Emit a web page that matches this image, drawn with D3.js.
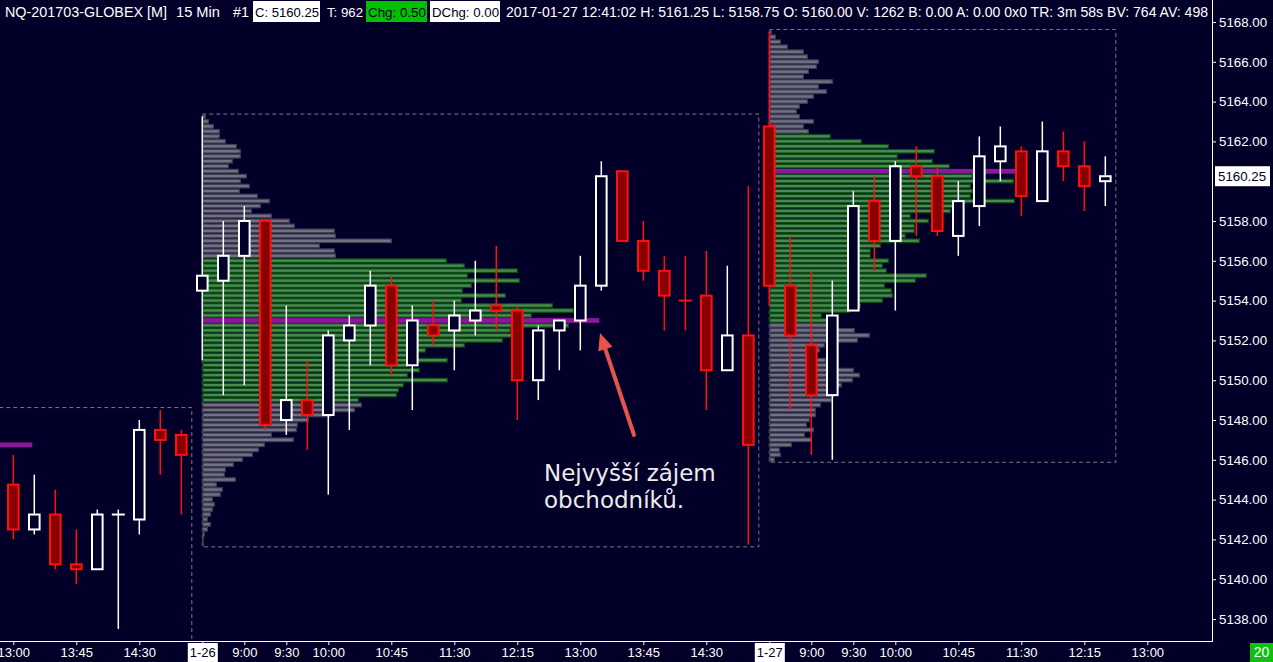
<!DOCTYPE html>
<html><head><meta charset="utf-8">
<script src="https://cdn.jsdelivr.net/npm/d3@7"></script>
<style>html,body{margin:0;padding:0;background:#020029;overflow:hidden}</style>
</head><body><svg id="c" width="1273" height="662"></svg>
<script>
// ---------------- DATA ----------------
const barTimes = [
  "01-25 13:00","01-25 13:15","01-25 13:30","01-25 13:45","01-25 14:00","01-25 14:15","01-25 14:30","01-25 14:45","01-25 15:00",
  "01-26 8:30","01-26 8:45","01-26 9:00","01-26 9:15","01-26 9:30","01-26 9:45","01-26 10:00","01-26 10:15","01-26 10:30",
  "01-26 10:45","01-26 11:00","01-26 11:15","01-26 11:30","01-26 11:45","01-26 12:00","01-26 12:15","01-26 12:30","01-26 12:45",
  "01-26 13:00","01-26 13:15","01-26 13:30","01-26 13:45","01-26 14:00","01-26 14:15","01-26 14:30","01-26 14:45","01-26 15:00",
  "01-27 8:30","01-27 8:45","01-27 9:00","01-27 9:15","01-27 9:30","01-27 9:45","01-27 10:00","01-27 10:15","01-27 10:30",
  "01-27 10:45","01-27 11:00","01-27 11:15","01-27 11:30","01-27 11:45","01-27 12:00","01-27 12:15","01-27 12:30"
];
const opens  = [5144.75,5142.5,5143.25,5140.75,5140.5,5143.25,5143.0,5147.5,5147.25,
  5154.5,5155.0,5156.25,5158.0,5148.0,5149.0,5148.25,5152.0,5152.75,5154.75,5150.75,5152.75,5152.5,5153.0,5153.75,5153.5,5150.0,5152.5,
  5153.0,5154.75,5160.5,5157.0,5155.5,5154.0,5154.25,5150.5,5152.25,
  5162.75,5154.75,5151.75,5149.25,5153.5,5159.0,5157.0,5160.75,5160.25,5157.25,5158.75,5161.0,5161.5,5159.0,5161.5,5160.75,5160.0];
const highs  = [5146.25,5145.25,5144.5,5142.5,5143.5,5143.5,5148.0,5148.5,5147.5,
  5163.25,5158.0,5158.75,5158.0,5153.75,5151.0,5152.5,5153.25,5155.5,5155.25,5153.75,5154.0,5154.0,5156.0,5156.75,5153.75,5152.75,5153.0,
  5156.25,5161.0,5160.5,5158.0,5156.25,5156.25,5156.5,5155.75,5159.75,
  5167.5,5157.25,5155.5,5155.0,5159.5,5160.25,5161.0,5161.75,5160.75,5160.0,5162.25,5162.75,5161.75,5163.0,5162.5,5162.0,5161.25];
const lows   = [5142.0,5142.25,5140.5,5139.75,5140.5,5137.5,5142.25,5145.25,5143.25,
  5151.0,5149.25,5149.75,5147.5,5147.25,5146.5,5144.25,5147.5,5150.75,5150.25,5148.5,5151.75,5150.5,5152.25,5152.5,5148.0,5149.0,5150.5,
  5151.5,5154.5,5157.0,5155.0,5152.5,5152.5,5148.5,5150.5,5141.75,
  5153.75,5148.5,5146.25,5146.0,5153.5,5155.5,5153.5,5157.25,5157.25,5156.25,5157.75,5160.0,5158.25,5159.0,5160.0,5158.5,5158.75];
const closes = [5142.5,5143.25,5140.75,5140.5,5143.25,5143.25,5147.5,5147.0,5146.25,
  5155.25,5156.25,5158.0,5147.75,5149.0,5148.25,5152.25,5152.75,5154.75,5150.75,5153.0,5152.25,5153.25,5153.5,5153.5,5150.0,5152.5,5153.0,
  5154.75,5160.25,5157.0,5155.5,5154.25,5154.0,5150.5,5152.25,5146.75,
  5154.75,5152.25,5149.25,5153.25,5158.75,5157.0,5160.75,5160.25,5157.5,5159.0,5161.25,5161.75,5159.25,5161.5,5160.75,5159.75,5160.25];

// sessions (bar index of first / last bar, high, low)
const sessionLabels = ["1-25","1-26","1-27"];
const sessionStart  = [-18, 9, 36];
const sessionEnd    = [8, 35, 52];
const sessionHigh   = [5148.5, 5163.25, 5167.5];
const sessionLow    = [5135.0, 5141.75, 5146.0];

// volume profiles (volume per 0.25 tick, from top price downward; units of 10 contracts)
const prof26Top = 5163.25;
const prof26Vol = [3,6,11,17,17,23,34,38,38,30,26,36,44,38,47,37,55,67,58,49,69,87,92,132,133,189,117,132,133,
  244,262,315,265,317,269,260,303,259,350,371,329,397,366,308,310,300,262,223,208,245,205,217,205,245,201,196,194,156,
  159,152,128,106,95,94,69,91,62,56,50,40,31,23,22,33,14,20,18,10,12,10,8,5,8,5,2,1,1];
const prof26VA = [5156.0, 5149.0];
const prof27Top = 5167.5;
const prof27Vol = [2,6,11,18,34,38,49,47,39,34,63,49,57,44,38,30,27,30,44,34,39,
  61,92,119,165,128,163,180,246,203,244,201,203,201,245,190,181,141,159,145,145,136,150,111,101,101,119,113,117,157,146,115,122,123,113,91,80,52,60,
  60,85,100,88,55,50,45,56,60,84,90,83,72,60,64,62,51,46,46,40,37,44,35,42,22,10,11,5];
const prof27VA = [5162.25, 5153.0];
const poc25Price = 5146.75, poc25Vol = 397;

const yTicks = [5168,5166,5164,5162,5158,5156,5154,5152,5150,5148,5146,5144,5142,5140,5138];
const xTickIdx = [0,3,6,9,11,13,15,18,21,24,27,30,33,36,38,40,42,45,48,51,54];
const xTickLabels = ["13:00","13:45","14:30","1-26","9:00","9:30","10:00","10:45","11:30","12:15","13:00","13:45","14:30",
  "1-27","9:00","9:30","10:00","10:45","11:30","12:15","13:00"];
const lastPrice = 5160.25;
const barsCounter = "20";

// ---------------- LAYOUT ----------------
const W = 1273, H = 662, PR = 1212, PB = 641;
const BG = "#020029";
const svg = d3.select("#c");
svg.append("rect").attr("width", W).attr("height", H).attr("fill", BG);

const x = d3.scaleLinear().domain([-0.6333, 57.08]).range([0, PR]);
const y = d3.scaleLinear().domain([5168, 5138]).range([22, 619]);
const vScale = d3.scaleLinear().domain([0, 100]).range([0, 100]);
const halfBar = (x(1) - x(0)) / 2;
const tick = 0.25;

svg.append("clipPath").attr("id", "plot").append("rect").attr("width", PR).attr("height", PB);
const g = svg.append("g").attr("clip-path", "url(#plot)");

// session boxes
sessionLabels.forEach((s, i) => {
  g.append("rect")
    .attr("x", x(sessionStart[i])).attr("y", y(sessionHigh[i] + tick / 2))
    .attr("width", x(sessionEnd[i]) + halfBar - x(sessionStart[i]))
    .attr("height", y(sessionLow[i] - tick / 2) - y(sessionHigh[i] + tick / 2))
    .attr("fill", "none").attr("stroke", "#7a7a80").attr("stroke-width", 1).attr("stroke-dasharray", "4,3");
});

function drawProfile(top, vols, va, startIdx) {
  const x0 = x(startIdx);
  const pg = g.append("g");
  let maxV = d3.max(vols), pocK = vols.indexOf(maxV);
  vols.forEach((v, k) => {
    const p = top - k * tick;
    const inVA = p <= va[0] && p >= va[1];
    if (k === pocK) return;
    pg.append("rect")
      .attr("x", x0 + 0.5).attr("y", y(p) - 1.9)
      .attr("width", Math.max(0.5, vScale(v) - 0.5)).attr("height", 3.6)
      .attr("fill", inVA ? "#4a8a52" : "#717085")
      .attr("stroke", inVA ? "#0a4a15" : "#3e3d50").attr("stroke-width", 1.2);
  });
  pg.append("rect").attr("x", x0).attr("y", y(top - pocK * tick) - 2.4)
    .attr("width", vScale(maxV)).attr("height", 4.8).attr("fill", "#8a179c");
}
drawProfile(prof26Top, prof26Vol, prof26VA, sessionStart[1]);
drawProfile(prof27Top, prof27Vol, prof27VA, sessionStart[2]);
g.append("rect").attr("x", x(sessionStart[0])).attr("y", y(poc25Price) - 2.4)
  .attr("width", vScale(poc25Vol)).attr("height", 4.8).attr("fill", "#8a179c");

// candles
const cg = g.append("g");
opens.forEach((o, i) => {
  const c = closes[i], h = highs[i], l = lows[i];
  const prev = i > 0 ? closes[i - 1] : o;
  const up = c > o || (c === o && c >= prev);
  const col = up ? "#ffffff" : "#ff1010";
  const cx = x(i);
  cg.append("line").attr("x1", cx).attr("x2", cx).attr("y1", y(h)).attr("y2", y(l))
    .attr("stroke", col).attr("stroke-width", 1.5);
  if (o === c) {
    cg.append("line").attr("x1", cx - 6.5).attr("x2", cx + 6.5).attr("y1", y(o)).attr("y2", y(o))
      .attr("stroke", col).attr("stroke-width", 2);
  } else {
    const t = y(Math.max(o, c)), b = y(Math.min(o, c));
    cg.append("rect").attr("x", cx - 5.3).attr("y", t).attr("width", 10.6).attr("height", b - t)
      .attr("fill", up ? BG : "#8a0000").attr("stroke", col).attr("stroke-width", 2);
  }
});

// annotation
const tip = [600, 333], tail = [634, 435];
const dx = tip[0] - tail[0], dy = tip[1] - tail[1], len = Math.hypot(dx, dy);
const ux = dx / len, uy = dy / len, bx = tip[0] - 17 * ux, by = tip[1] - 17 * uy;
g.append("line").attr("x1", tail[0]).attr("y1", tail[1]).attr("x2", bx).attr("y2", by)
  .attr("stroke", "#e5554a").attr("stroke-width", 4).attr("stroke-linecap", "round");
g.append("path").attr("d", `M${tip[0]},${tip[1]}L${bx - 7.5 * uy},${by + 7.5 * ux}L${bx + 7.5 * uy},${by - 7.5 * ux}Z`)
  .attr("fill", "#e5554a");
const at = g.append("text").attr("font-family", "'DejaVu Sans', Verdana, sans-serif").attr("font-size", 23)
  .attr("fill", "#ececec");
at.append("tspan").attr("x", 544).attr("y", 481).text("Nejvyšší zájem");
at.append("tspan").attr("x", 544).attr("y", 508).text("obchodníků.");

// axes
const axFont = "'Liberation Sans', Arial, sans-serif";
const ya = svg.append("g").attr("transform", `translate(${PR},0)`)
  .call(d3.axisRight(y).tickValues(yTicks).tickFormat(d3.format(".2f")).tickSize(4).tickSizeOuter(0));
ya.select(".domain").remove();
ya.selectAll("line").attr("stroke", "#fff");
ya.selectAll("text").attr("fill", "#fff").attr("font-family", axFont).attr("font-size", 13.3).attr("x", 7);

const xa = svg.append("g").attr("transform", `translate(0,${PB})`)
  .call(d3.axisBottom(x).tickValues(xTickIdx).tickFormat((d, i) => xTickLabels[i]).tickSize(4).tickSizeOuter(0));
xa.select(".domain").remove();
xa.selectAll("line").attr("stroke", "#fff");
xa.selectAll("text").attr("fill", "#fff").attr("font-family", axFont).attr("font-size", 13).attr("y", 5).attr("dy", "0.85em");
xa.selectAll(".tick").each(function (d, i) {
  if (xTickLabels[i].includes("-")) {
    const t = d3.select(this).select("text").attr("fill", "#000022");
    const bb = t.node().getBBox();
    d3.select(this).insert("rect", "text").attr("x", bb.x - 2).attr("y", 2).attr("width", bb.width + 4)
      .attr("height", 19).attr("fill", "#fff");
  }
});
svg.append("line").attr("x1", 0).attr("x2", PR).attr("y1", PB + 0.5).attr("y2", PB + 0.5).attr("stroke", "#fff");
svg.append("line").attr("x1", PR + 0.5).attr("x2", PR + 0.5).attr("y1", 0).attr("y2", PB + 1).attr("stroke", "#fff");

// last price box
svg.append("rect").attr("x", PR + 3).attr("y", y(lastPrice) - 10).attr("width", 55).attr("height", 20).attr("fill", "#fff");
svg.append("text").attr("x", PR + 6).attr("y", y(lastPrice)).attr("dy", "0.35em").attr("fill", "#000022")
  .attr("font-family", axFont).attr("font-size", 13.3).text(d3.format(".2f")(lastPrice));

// counter box
svg.append("rect").attr("x", 1250).attr("y", 643).attr("width", 23).attr("height", 19).attr("fill", "#10bf10");
svg.append("text").attr("x", 1261.5).attr("y", 657).attr("text-anchor", "middle").attr("fill", "#fff")
  .attr("font-family", axFont).attr("font-size", 14).text(barsCounter);

// header
const hdr = [
  {t: "NQ-201703-GLOBEX [M]", x0: 5, x1: 167},
  {t: "15 Min", x0: 176, x1: 220},
  {t: "#1", x0: 233, x1: 249},
  {t: "C: " + d3.format(".2f")(lastPrice), x0: 255, x1: 319, bg: "#ffffff"},
  {t: "T: 962", x0: 327, x1: 363},
  {t: "Chg: 0.50", x0: 368, x1: 426, bg: "#00c000"},
  {t: "DChg: 0.00", x0: 432, x1: 499, bg: "#ffffff"},
  {t: "2017-01-27 12:41:02 H: 5161.25 L: 5158.75 O: 5160.00 V: 1262 B: 0.00 A: 0.00 0x0 TR: 3m 58s BV: 764 AV: 498", x0: 506, x1: 1208}
];
hdr.forEach(h => {
  if (h.bg) svg.append("rect").attr("x", h.x0 - 2).attr("y", 1).attr("width", h.x1 - h.x0 + 3).attr("height", 21).attr("fill", h.bg);
  const t = svg.append("text").attr("x", h.x0).attr("y", 16.5).attr("fill", h.bg ? "#000018" : "#ffffff")
    .attr("font-family", "'Liberation Sans Narrow', 'Liberation Sans', Arial, sans-serif").attr("font-size", 15).text(h.t);
  const nat = t.node().getComputedTextLength();
  const target = h.x1 - h.x0;
  if (nat > target) t.attr("font-size", 15 * target / nat);
  t.attr("textLength", target).attr("lengthAdjust", "spacingAndGlyphs");
});
</script></body></html>
